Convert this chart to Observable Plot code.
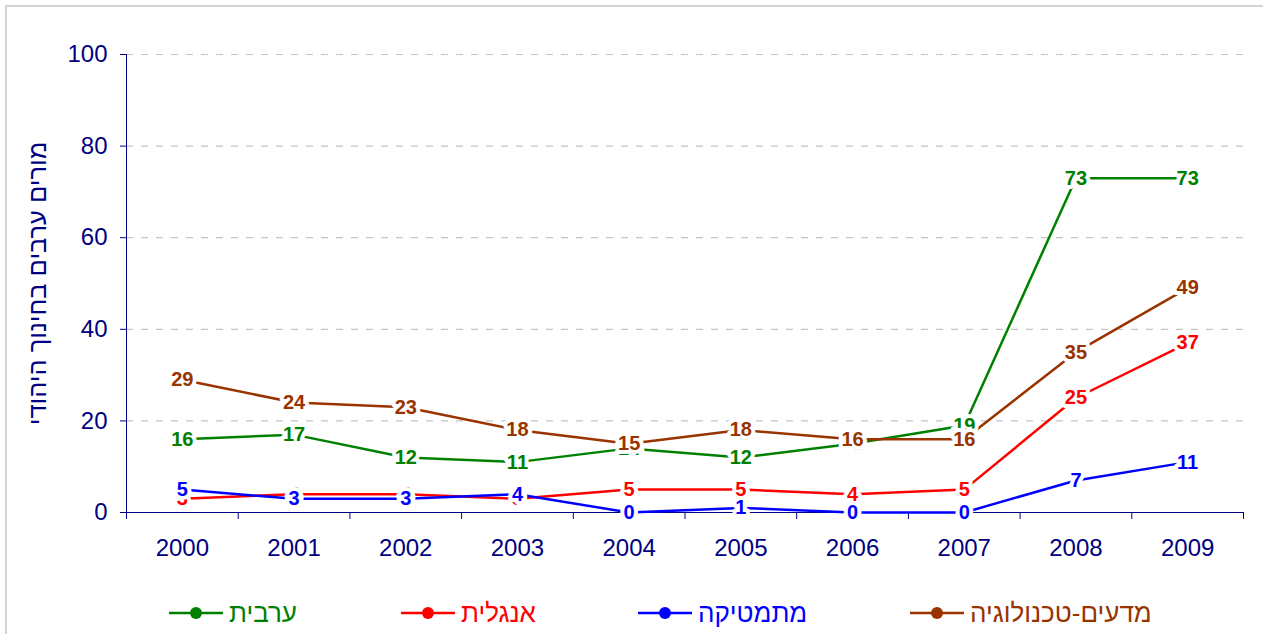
<!DOCTYPE html>
<html><head><meta charset="utf-8">
<script src="https://cdn.jsdelivr.net/npm/d3@7"></script>
<script src="https://cdn.jsdelivr.net/npm/@observablehq/plot@0.6"></script>
<style>
body{margin:0;background:#fff;font-family:"Liberation Sans",Arial,sans-serif;}
#frame{position:absolute;left:5px;top:5px;width:1300px;height:700px;border:2px solid #d4d4d4;box-sizing:border-box;}
#chart{position:absolute;left:0;top:0;}
#legend{position:absolute;top:597px;left:0;width:1263px;height:32px;}
.item{position:absolute;top:0;height:32px;display:flex;align-items:center;font-size:26px;white-space:nowrap;}
.item svg{margin-right:6px;}
</style></head><body>
<div id="frame"></div>
<div id="chart"></div>
<div id="legend"></div>
<script>
const years = [2000, 2001, 2002, 2003, 2004, 2005, 2006, 2007, 2008, 2009];
const arabic  = [16, 17, 12, 11, 14, 12, 15, 19, 73, 73];
const english = [3, 4, 4, 3, 5, 5, 4, 5, 25, 37];
const math    = [5, 3, 3, 4, 0, 1, 0, 0, 7, 11];
const scitech = [29, 24, 23, 18, 15, 18, 16, 16, 35, 49];
const seriesNames = ["ערבית", "אנגלית", "מתמטיקה", "מדעים-טכנולוגיה"];
const seriesColors = ["#008000", "#ff0000", "#0000ff", "#993300"];
const yTicks = [0, 20, 40, 60, 80, 100];
const yTitle = "מורים ערבים בחינוך היהודי";
const legendLeft = [169, 401, 638, 910];

const seriesValues = [arabic, english, math, scitech];
const data = [];
seriesValues.forEach((vals, i) => vals.forEach((v, j) => data.push({series: seriesNames[i], year: years[j], value: v})));
const boundaries = d3.range(years[0] - 0.5, years[years.length - 1] + 1, 1);
const navy = "#000080";

const chart = Plot.plot({
  width: 1263,
  height: 580,
  marginLeft: 126,
  marginRight: 20,
  marginTop: 54,
  marginBottom: 68,
  style: {background: "transparent", fontFamily: "'Liberation Sans', Arial, sans-serif"},
  x: {type: "linear", domain: [boundaries[0], boundaries[boundaries.length - 1]], axis: null},
  y: {domain: [0, 100], axis: null},
  color: {domain: seriesNames, range: seriesColors},
  marks: [
    Plot.ruleY(yTicks.filter(d => d > 0), {stroke: "#c4c4c4", strokeDasharray: "7,8", strokeWidth: 1.2}),
    Plot.axisY(yTicks, {tickSize: 6, tickPadding: 13, fontSize: 24, color: navy, label: null, strokeWidth: 1}),
    Plot.axisX(boundaries, {tickSize: 7, tickFormat: () => "", color: navy, label: null}),
    Plot.axisX(years, {tickSize: 0, tickPadding: 26, fontSize: 24, color: navy, tickFormat: d => String(d), label: null}),
    Plot.ruleX([boundaries[0]], {stroke: navy, strokeWidth: 1}),
    Plot.ruleY([0], {stroke: navy, strokeWidth: 1.2}),
    Plot.text([yTitle], {frameAnchor: "left", textAnchor: "middle", dx: -89, rotate: -90, fontSize: 25.5, fill: navy}),
    Plot.line(data, {x: "year", y: "value", z: "series", stroke: "series", strokeWidth: 2.5}),
    Plot.dot(data, {x: "year", y: "value", fill: "series", r: 3.5}),
    Plot.text(data, {x: "year", y: "value", text: d => String(d.value), fill: "series", stroke: "white", strokeWidth: 8, paintOrder: "stroke", fontWeight: "bold", fontSize: 20})
  ]
});
document.getElementById("chart").appendChild(chart);

const legend = d3.select("#legend");
seriesNames.forEach((name, i) => {
  const item = legend.append("div").attr("class", "item").style("left", legendLeft[i] + "px").style("color", seriesColors[i]);
  const svg = item.append("svg").attr("width", 54).attr("height", 16);
  svg.append("line").attr("x1", 0).attr("x2", 54).attr("y1", 8).attr("y2", 8).attr("stroke", seriesColors[i]).attr("stroke-width", 2.5);
  svg.append("circle").attr("cx", 27).attr("cy", 8).attr("r", 6).attr("fill", seriesColors[i]);
  item.append("span").attr("dir", "rtl").text(name);
});
</script>
</body></html>
